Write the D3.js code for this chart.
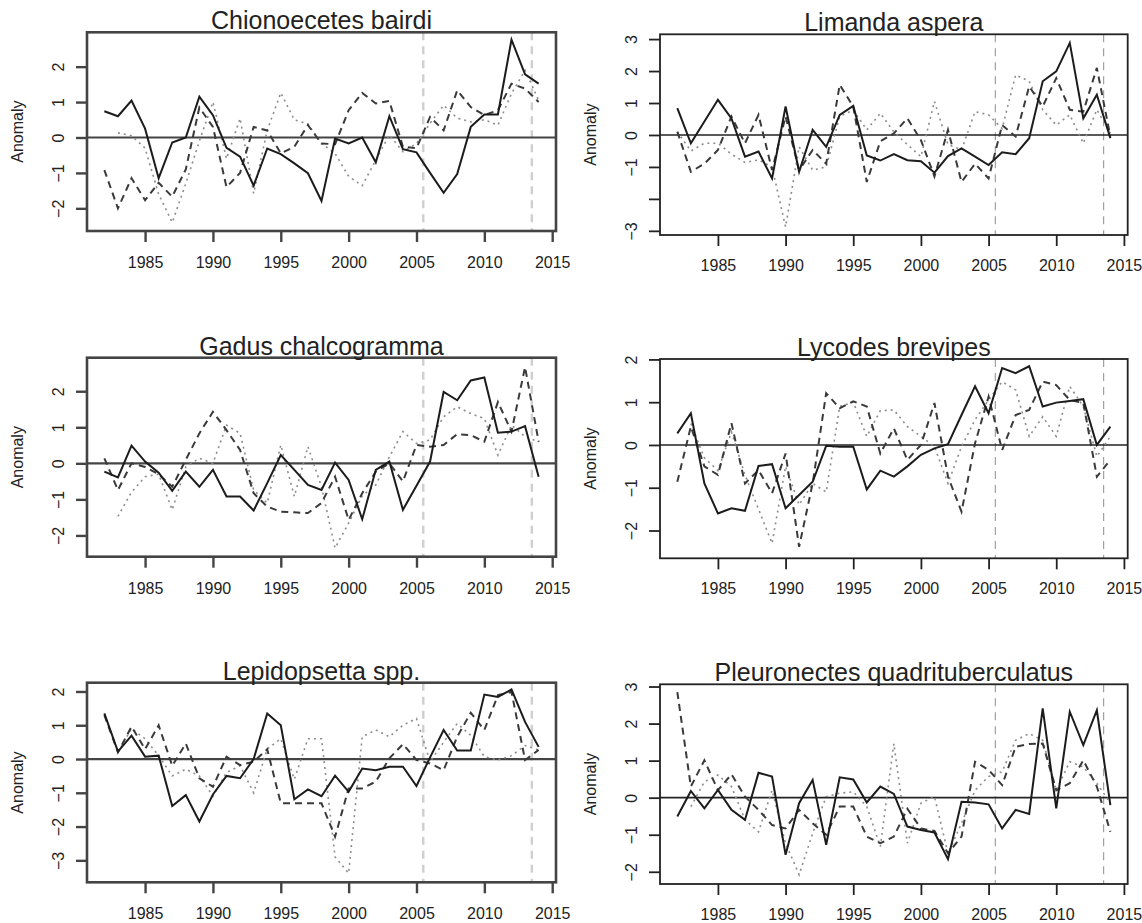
<!DOCTYPE html>
<html>
<head>
<meta charset="utf-8">
<script src="https://cdn.jsdelivr.net/npm/d3@7"></script>
<style>
  html, body { margin: 0; padding: 0; background: #fff; }
  svg { display: block; }
  text { font-family: "Liberation Sans", Arial, Helvetica, sans-serif; fill: #222; }
</style>
</head>
<body>
<svg id="chart" width="1142" height="923"></svg>
<script>
// ---------------- DATA ----------------
const years = [1982,1983,1984,1985,1986,1987,1988,1989,1990,1991,1992,1993,1994,1995,1996,1997,1998,1999,2000,2001,2002,2003,2004,2005,2006,2007,2008,2009,2010,2011,2012,2013,2014];

const titles = ["Chionoecetes bairdi", "Limanda aspera", "Gadus chalcogramma", "Lycodes brevipes", "Lepidopsetta spp.", "Pleuronectes quadrituberculatus"];

const chionSolid  = [0.74,0.60,1.04,0.25,-1.15,-0.14,0.0,1.15,0.63,-0.29,-0.54,-1.36,-0.31,-0.47,-0.73,-1.01,-1.79,-0.03,-0.17,0.0,-0.70,0.60,-0.33,-0.42,-1.0,-1.56,-1.03,0.30,0.65,0.65,2.76,1.78,1.52];
const chionDashed = [-0.92,-2.0,-1.15,-1.77,-1.28,-1.67,-0.9,0.85,0.3,-1.4,-1.0,0.3,0.2,-0.45,-0.26,0.35,-0.17,-0.19,0.77,1.26,0.96,1.03,-0.26,-0.3,0.58,0.2,1.33,0.86,0.63,0.77,1.52,1.38,1.0];
const chionDotted = [null,0.13,0.05,-0.3,-1.6,-2.4,-1.3,-0.1,1.0,-0.6,0.54,-1.58,0.2,1.26,0.5,0.38,-0.17,-0.45,-1.1,-1.36,-0.64,0.07,-0.4,-0.17,0.4,0.91,0.55,0.44,0.5,0.35,1.24,1.9,1.05];

const limSolid  = [0.84,-0.26,0.42,1.1,0.52,-0.68,-0.52,-1.36,0.89,-1.15,0.16,-0.37,0.63,0.91,-0.64,-0.8,-0.6,-0.79,-0.82,-1.18,-0.66,-0.42,-0.68,-0.94,-0.54,-0.6,-0.1,1.68,1.99,2.88,0.52,1.26,-0.1];
const limDashed = [0.1,-1.15,-0.9,-0.47,0.58,-0.26,0.63,-1.1,0.58,-1.1,-0.47,-0.9,1.57,0.89,-1.47,-0.2,0.05,0.52,-0.16,-1.3,0.16,-1.47,-0.9,-1.36,0.31,-0.05,1.52,0.89,1.78,0.79,0.73,2.1,-0.05];
const limDotted = [0.1,-0.5,-0.26,-0.26,-0.6,-0.86,-0.78,-1.0,-2.88,-0.37,-1.1,-1.0,0.58,0.78,0.16,0.68,0.1,-0.3,-0.68,1.05,-0.3,-0.47,0.73,0.63,0.2,1.88,1.68,0.79,0.31,0.63,-0.26,0.79,0.05];

const gadSolid  = [-0.23,-0.39,0.49,0.05,-0.26,-0.76,-0.23,-0.65,-0.18,-0.92,-0.92,-1.31,-0.55,0.23,-0.18,-0.6,-0.74,0.02,-0.46,-1.55,-0.18,0.05,-1.29,-0.62,0.05,1.98,1.75,2.3,2.38,0.85,0.88,1.03,-0.37];
const gadDashed = [0.14,-0.74,0.0,-0.1,-0.3,-0.65,0.1,0.83,1.43,0.92,0.37,-0.83,-1.2,-1.34,-1.36,-1.38,-1.1,-0.37,-1.57,-0.83,-0.23,0.0,-0.5,0.51,0.46,0.51,0.81,0.78,0.6,1.7,0.88,2.67,0.6];
const gadDotted = [null,-1.47,-0.8,-0.37,-0.3,-1.29,-0.1,0.14,0.0,1.06,0.83,-0.74,-1.1,0.51,-0.92,0.46,-0.65,-2.35,-1.66,-0.9,-0.6,0.18,0.88,0.55,0.65,1.29,1.57,1.38,1.24,0.23,1.06,0.74,0.6];

const lycSolid  = [0.27,0.74,-0.9,-1.6,-1.48,-1.54,-0.49,-0.45,-1.48,-1.17,-0.86,-0.02,-0.04,-0.04,-1.04,-0.6,-0.74,-0.5,-0.23,-0.08,0.02,0.7,1.37,0.74,1.8,1.68,1.84,0.9,0.99,1.03,1.07,0.0,0.43];
const lycDashed = [-0.86,0.43,-0.5,-0.7,0.51,-0.9,-0.59,-1.13,-0.2,-2.38,-0.9,1.21,0.86,1.02,0.9,-0.2,0.39,-0.35,0.0,0.98,-0.74,-1.56,0.04,1.13,-0.12,0.7,0.82,1.48,1.4,1.05,0.98,-0.74,-0.35];
const lycDotted = [null,0.5,-0.3,-0.6,0.3,-0.7,-1.5,-2.3,-0.5,-1.4,-0.9,-1.1,0.9,1.0,0.2,0.8,0.82,0.43,0.2,-0.04,-0.9,-0.04,0.59,1.05,1.48,1.29,0.2,0.66,0.2,1.37,0.9,-0.27,0.2];

const lepSolid  = [1.35,0.22,0.69,0.07,0.1,-1.39,-1.07,-1.85,-1.05,-0.5,-0.57,0.0,1.35,1.0,-1.19,-0.9,-1.1,-0.49,-0.97,-0.28,-0.33,-0.23,-0.23,-0.8,0.05,0.86,0.25,0.25,1.91,1.84,2.06,1.1,0.36];
const lepDashed = [1.3,0.2,0.96,0.29,1.0,-0.2,0.46,-0.57,-0.82,0.07,-0.18,-0.08,0.29,-1.31,-1.31,-1.31,-1.31,-2.3,-0.87,-0.87,-0.67,0.02,0.44,-0.03,-0.13,-0.33,0.66,1.37,0.86,1.89,1.99,-0.03,0.27];
const lepDotted = [null,0.2,0.9,0.6,0.1,-0.5,-0.3,-0.5,-1.1,-0.4,-0.2,-1.0,0.3,0.6,-0.6,0.6,0.6,-2.9,-3.38,0.66,0.86,0.66,1.0,1.2,-0.08,0.5,1.05,0.7,0.07,-0.03,0.1,0.4,0.27];

const pleSolid  = [-0.51,0.18,-0.29,0.21,-0.33,-0.6,0.67,0.57,-1.54,-0.15,0.48,-1.27,0.55,0.49,-0.13,0.3,0.1,-0.78,-0.87,-0.94,-1.66,-0.11,-0.13,-0.18,-0.83,-0.33,-0.44,2.41,-0.29,2.32,1.42,2.36,-0.2];
const pleDashed = [2.85,0.3,1.01,0.2,0.63,0.03,-0.33,-0.74,-0.83,-0.33,-0.69,-1.0,-0.24,-0.24,-1.05,-1.23,-1.05,-0.3,-0.83,-0.9,-1.5,-1.05,0.97,0.75,0.34,1.37,1.45,1.46,0.2,0.39,1.01,0.3,-0.92];
const pleDotted = [null,-0.24,0.43,0.61,0.3,-0.6,-0.92,0.2,-1.23,-2.08,-0.96,0.03,0.12,0.16,-0.24,-1.32,1.46,-1.23,-0.15,0.03,-1.5,-0.69,0.2,0.57,0.7,1.55,1.73,1.55,0.2,0.97,0.83,0.39,-0.15];

// axis limits and ticks
const xLimits = [1980.72, 2015.28];
const xTicks = [1985, 1990, 1995, 2000, 2005, 2010, 2015];
const regimeYears = [2005.5, 2013.5];
const yLimits = [[-2.64, 2.97], [-3.13, 3.15], [-2.59, 2.93], [-2.65, 2.01], [-3.65, 2.26], [-2.33, 3.06]];
const yTicks = [[-2,-1,0,1,2], [-3,-2,-1,0,1,2,3], [-2,-1,0,1,2], [-2,-1,0,1,2], [-3,-2,-1,0,1,2], [-2,-1,0,1,2,3]];
const yHiddenLabels = [[], [-2], [], [], [], []];
const yLabel = "Anomaly";

// ---------------- LAYOUT ----------------
const solids  = [chionSolid, limSolid, gadSolid, lycSolid, lepSolid, pleSolid];
const dasheds = [chionDashed, limDashed, gadDashed, lycDashed, lepDashed, pleDashed];
const dotteds = [chionDotted, limDotted, gadDotted, lycDotted, lepDotted, pleDotted];

const boxes = [
  {x0: 87,  x1: 556,  y0: 32.3,  y1: 231.0},
  {x0: 660, x1: 1127.7, y0: 34.3,  y1: 235.0},
  {x0: 87,  x1: 556,  y0: 357.7, y1: 556.7},
  {x0: 660, x1: 1127.7, y0: 359.0, y1: 558.3},
  {x0: 87,  x1: 556,  y0: 682.7, y1: 882.3},
  {x0: 660, x1: 1127.7, y0: 684.3, y1: 884.0}
];

const svg = d3.select("#chart");
const minus = s => s.replace("-", "\u2212");

titles.forEach((title, i) => {
  const b = boxes[i];
  const leftCol = (i % 2 === 0);
  const g = svg.append("g");
  const x = d3.scaleLinear().domain(xLimits).range([b.x0, b.x1]);
  const y = d3.scaleLinear().domain(yLimits[i]).range([b.y1, b.y0]);

  // regime lines
  g.selectAll("line.regime").data(regimeYears).enter().append("line")
    .attr("x1", d => x(d)).attr("x2", d => x(d))
    .attr("y1", b.y0).attr("y2", b.y1)
    .attr("stroke", leftCol ? "#cfcfcf" : "#a0a0a0")
    .attr("stroke-width", leftCol ? 2.4 : 1.2)
    .attr("stroke-dasharray", "8,6");

  // zero line
  g.append("line")
    .attr("x1", b.x0).attr("x2", b.x1)
    .attr("y1", y(0)).attr("y2", y(0))
    .attr("stroke", leftCol ? "#444" : "#222")
    .attr("stroke-width", leftCol ? 2.2 : 1.6);

  const line = d3.line()
    .defined(d => d[1] !== null)
    .x(d => x(d[0])).y(d => y(d[1]));
  const pairs = arr => years.map((yr, k) => [yr, arr[k]]);

  g.append("path").datum(pairs(dotteds[i]))
    .attr("d", line).attr("fill", "none")
    .attr("stroke", "#8c8c8c").attr("stroke-width", 1.6)
    .attr("stroke-dasharray", "2,4");
  g.append("path").datum(pairs(dasheds[i]))
    .attr("d", line).attr("fill", "none")
    .attr("stroke", "#3a3a3a").attr("stroke-width", 2)
    .attr("stroke-dasharray", "7,5");
  g.append("path").datum(pairs(solids[i]))
    .attr("d", line).attr("fill", "none")
    .attr("stroke", "#1c1c1c").attr("stroke-width", 2)
    .attr("stroke-linejoin", "miter");

  // box
  g.append("rect")
    .attr("x", b.x0).attr("y", b.y0)
    .attr("width", b.x1 - b.x0).attr("height", b.y1 - b.y0)
    .attr("fill", "none")
    .attr("stroke", leftCol ? "#444" : "#222")
    .attr("stroke-width", leftCol ? 2.6 : 1.8);

  // x axis
  const xa = g.append("g").attr("transform", `translate(0,${b.y1})`)
    .call(d3.axisBottom(x).tickValues(xTicks).tickSize(11).tickPadding(leftCol ? 14.5 : 13.2).tickFormat(d3.format("d")));
  xa.select(".domain").remove();
  xa.selectAll("line").attr("stroke", leftCol ? "#444" : "#222").attr("stroke-width", leftCol ? 2.4 : 1.8);
  xa.selectAll("text").attr("font-size", 16).attr("fill", "#222")
    .style("font-family", '"Liberation Sans", Arial, sans-serif');

  // y axis
  const ya = g.append("g").attr("transform", `translate(${b.x0},0)`)
    .call(d3.axisLeft(y).tickValues(yTicks[i]).tickSize(11)
      .tickFormat(d => yHiddenLabels[i].includes(d) ? "" : minus(String(d))));
  ya.select(".domain").remove();
  ya.selectAll("line").attr("stroke", leftCol ? "#444" : "#222").attr("stroke-width", leftCol ? 2.4 : 1.8);
  ya.selectAll("text")
    .attr("x", null).attr("dy", null)
    .attr("transform", "translate(-23,0) rotate(-90)")
    .attr("text-anchor", "middle")
    .attr("font-size", 16).attr("fill", "#222")
    .style("font-family", '"Liberation Sans", Arial, sans-serif');

  // y label
  g.append("text")
    .attr("transform", `translate(${b.x0 - 64},${(b.y0 + b.y1) / 2}) rotate(-90)`)
    .attr("text-anchor", "middle")
    .attr("font-size", 16)
    .text(yLabel);

  // title
  g.append("text")
    .attr("x", (b.x0 + b.x1) / 2).attr("y", b.y0 - 3)
    .attr("text-anchor", "middle")
    .attr("font-size", 25)
    .text(title);
});
</script>
</body>
</html>
